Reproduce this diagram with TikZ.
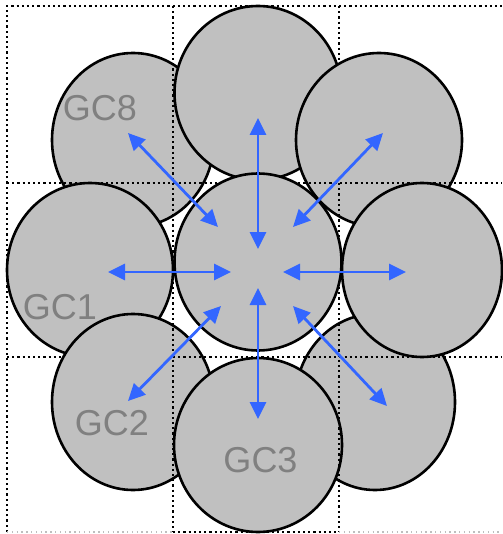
\documentclass[tikz,border=0pt]{standalone}
\usepackage{fontspec}
\setmainfont{Liberation Sans}
\usepackage{tikz}
\usetikzlibrary{shapes.geometric, arrows.meta}
\definecolor{cellgray}{RGB}{192,192,192}
\definecolor{myblue}{RGB}{51,102,255}
\definecolor{lblgray}{RGB}{128,128,128}
\definecolor{gridlight}{RGB}{190,190,190}
\tikzset{
  cell/.style={ellipse, draw=black, fill=cellgray, line width=2.6pt, inner sep=0pt},
  gridline/.style={line width=2.4pt, dash pattern=on 2.2pt off 3pt, color=black},
  faintline/.style={line width=1.4pt, dash pattern=on 1.4pt off 3.4pt, color=gridlight},
  link/.style={{Triangle[length=17pt,width=16pt]}-{Triangle[length=17pt,width=16pt]},
    line width=2.8pt, color=myblue},
  gclabel/.style={font=\fontsize{36}{40}\selectfont, text=lblgray, inner sep=0pt}
}

\begin{document}
\begin{tikzpicture}[x=1pt, y=-1pt]
  \useasboundingbox (0,0) rectangle (502,534);

  % Grid parts lying under the cells
  \draw[gridline] (7,357) -- (173,357);
  \draw[gridline] (339,6) -- (339,183);

  % Outer cells
  \node[cell, minimum width=162pt, minimum height=174pt] (gc8) at (133,140) {};
  \node[cell, minimum width=167pt, minimum height=174pt] (gc7) at (258,93) {};
  \node[cell, minimum width=166pt, minimum height=174pt] (gc6) at (379,140) {};
  \node[cell, minimum width=160pt, minimum height=176pt] (gc4) at (375,402) {};
  \node[cell, minimum width=160pt, minimum height=174pt] (gc5) at (422,270) {};
  \node[cell, minimum width=166pt, minimum height=174pt] (gc1) at (90,270) {};
  \node[cell, minimum width=162pt, minimum height=176pt] (gc2) at (133,402) {};
  \node[cell, minimum width=168pt, minimum height=174pt] (gc3) at (258,445) {};

  % Grid
  \draw[gridline] (7,532) -- (7,6) -- (502,6);
  \draw[gridline] (7,183) -- (502,183);
  \draw[gridline] (173,357) -- (502,357);
  \draw[gridline] (173,6) -- (173,532);
  \draw[gridline] (339,183) -- (339,532);
  \draw[gridline] (173,532) -- (339,532);
  \draw[faintline] (7,532) -- (173,532);
  \draw[faintline] (339,532) -- (502,532);

  % Centre cell
  \node[cell, minimum width=167pt, minimum height=177pt] (gc0) at (258,262) {};

  % Arrow ends
  \coordinate (o1) at (108,272);  \coordinate (i1) at (231,272);
  \coordinate (o2) at (128,401);  \coordinate (i2) at (221,306);
  \coordinate (o3) at (258,419);  \coordinate (i3) at (258,288);
  \coordinate (o4) at (387,406);  \coordinate (i4) at (293,306);
  \coordinate (o5) at (406,272);  \coordinate (i5) at (283,272);
  \coordinate (o6) at (383,133);  \coordinate (i6) at (293,227);
  \coordinate (o7) at (258,118);  \coordinate (i7) at (258,249);
  \coordinate (o8) at (128,133);  \coordinate (i8) at (218,227);

  % Arrows
  \draw[link] (o1) -- (i1);
  \draw[link] (o2) -- (i2);
  \draw[link] (o3) -- (i3);
  \draw[link] (o4) -- (i4);
  \draw[link] (o5) -- (i5);
  \draw[link] (o6) -- (i6);
  \draw[link] (o7) -- (i7);
  \draw[link] (o8) -- (i8);

  % Labels
  \node[gclabel] (lbl8) at (100,108.5) {GC8};
  \node[gclabel] (lbl1) at (60,307) {GC1};
  \node[gclabel] (lbl2) at (112,423.5) {GC2};
  \node[gclabel] (lbl3) at (260.5,460) {GC3};
\end{tikzpicture}
\end{document}
